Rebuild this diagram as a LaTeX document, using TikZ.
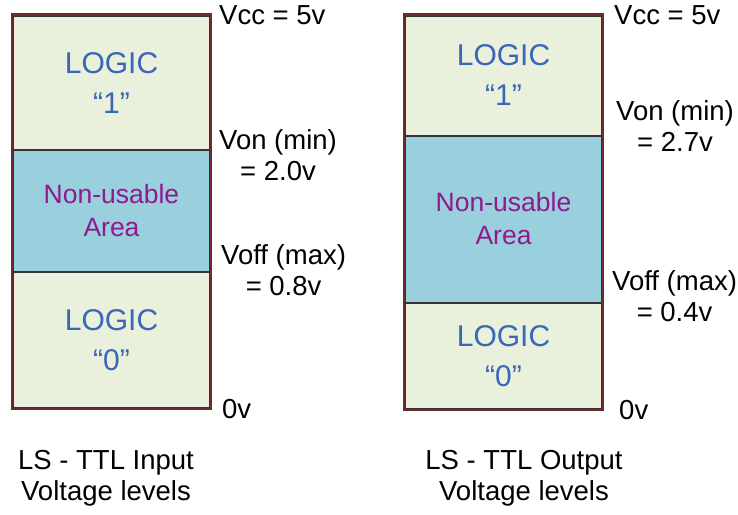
\documentclass[tikz,border=0pt]{standalone}
\usepackage{xcolor}
\usepackage{fontspec}
\setmainfont{Liberation Sans}
\usepackage{tikz}
\usetikzlibrary{positioning}
\definecolor{logicfill}{HTML}{E9F0DC}
\definecolor{badfill}{HTML}{9ACFDD}
\definecolor{logictext}{HTML}{3A66B8}
\definecolor{badtext}{HTML}{8E1A8E}
\definecolor{framecol}{HTML}{6B2D2D}
\tikzstyle{zone} = [rectangle, minimum width=197pt, inner sep=0pt, draw=black!80, line width=2pt, text centered, align=center]
\tikzstyle{logiczone} = [zone, fill=logicfill, text=logictext, font=\fontsize{30}{40}\selectfont]
\tikzstyle{badzone} = [zone, fill=badfill, text=badtext, font=\fontsize{26.5}{33}\selectfont]
\tikzstyle{level} = [inner sep=0pt, anchor=west, align=center, font=\fontsize{27.5}{31}\selectfont]
\tikzstyle{caption} = [inner sep=0pt, align=center, font=\fontsize{27.5}{31}\selectfont]
\tikzstyle{frame} = [draw=framecol, line width=2.5pt]

\begin{document}
\begin{tikzpicture}[x=1pt, y=-1pt]
        \useasboundingbox (0,0) rectangle (738,514);

        % input levels
        \node [logiczone, minimum height=134.5pt] (inone) at (111.5,82.75) {LOGIC\\“1”};
        \node [badzone, minimum height=122pt] (inbad) at (111.5,211) {Non-usable\\Area};
        \node [logiczone, minimum height=136pt] (inzero) at (111.5,340) {LOGIC\\“0”};
        \draw [frame] (inone.north west) rectangle (inzero.south east);

        \node [level] (invcc) at (219,15) {Vcc = 5v};
        \node [level] (inon) at (219,155) {Von (min)\\= 2.0v};
        \node [level] (inoff) at (221,270) {Voff (max)\\= 0.8v};
        \node [level] (ingnd) at (222,409) {0v};
        \node [caption] (intitle) at (106,478) {LS - TTL Input\\Voltage levels};

        % output levels
        \node [logiczone, minimum height=120pt] (outone) at (503.5,75.5) {LOGIC\\“1”};
        \node [badzone, minimum height=167pt] (outbad) at (503.5,219) {Non-usable\\Area};
        \node [logiczone, minimum height=106pt] (outzero) at (503.5,356) {LOGIC\\“0”};
        \draw [frame] (outone.north west) rectangle (outzero.south east);

        \node [level] (outvcc) at (614,15) {Vcc = 5v};
        \node [level] (outon) at (616,126) {Von (min)\\= 2.7v};
        \node [level] (outoff) at (612,296) {Voff (max)\\= 0.4v};
        \node [level] (outgnd) at (619,410) {0v};
        \node [caption] (outtitle) at (524,478) {LS - TTL Output\\Voltage levels};
    \end{tikzpicture}
\end{document}
